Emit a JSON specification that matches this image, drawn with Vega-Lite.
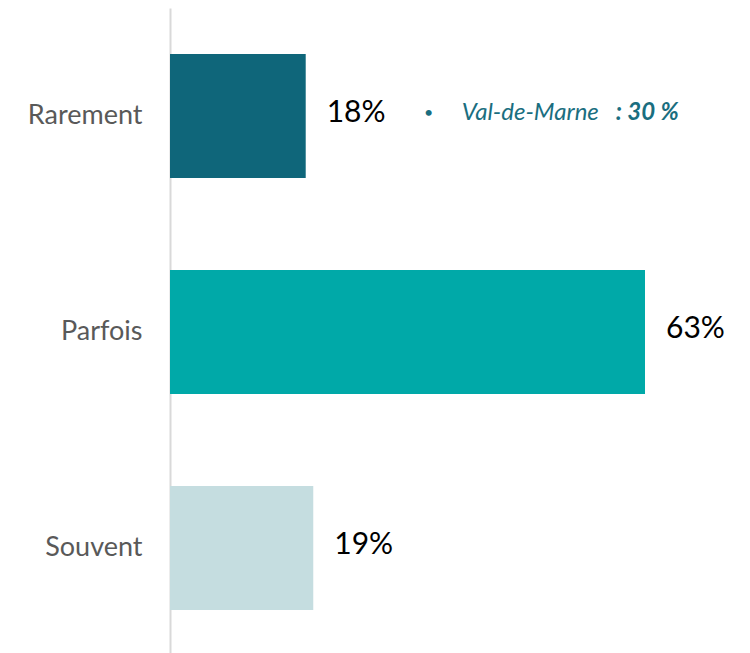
{
  "$schema": "https://vega.github.io/schema/vega-lite/v6.json",
  "width": 475,
  "height": 648,
  "autosize": {"type": "none"},
  "padding": {"left": 170, "top": 8, "right": 105, "bottom": 0},
  "background": "white",
  "config": {"view": {"stroke": null}, "font": "Lato"},
  "datasets": {
    "bars": [
      {"category": "Rarement", "value": 18, "label": "18%"},
      {"category": "Parfois", "value": 63, "label": "63%"},
      {"category": "Souvent", "value": 19, "label": "19%"}
    ],
    "note": [
      {"category": "Rarement", "value": 18, "bullet": "•", "region": "Val-de-Marne", "figure": ": 30 %"}
    ]
  },
  "layer": [
    {
      "data": {"name": "bars"},
      "mark": {"type": "bar"},
      "encoding": {
        "y": {
          "field": "category", "type": "nominal",
          "sort": ["Rarement", "Parfois", "Souvent"],
          "scale": {"paddingInner": 0.425, "paddingOuter": 0.2125},
          "axis": {
            "title": null, "ticks": false, "domainColor": "#d9d9d9", "domainWidth": 2,
            "labelFontSize": 27, "labelColor": "#595959", "labelPadding": 28, "labelFont": "Lato"
          }
        },
        "x": {"field": "value", "type": "quantitative", "scale": {"domain": [0, 63], "nice": false, "zero": true}, "axis": null},
        "color": {
          "field": "category", "type": "nominal",
          "scale": {"domain": ["Rarement", "Parfois", "Souvent"], "range": ["#0f667a", "#00a9a8", "#c5dde0"]},
          "legend": null
        }
      }
    },
    {
      "data": {"name": "bars"},
      "mark": {"type": "text", "align": "left", "dx": 21, "dy": -3, "fontSize": 30, "color": "#000000"},
      "encoding": {
        "y": {"field": "category", "type": "nominal", "sort": ["Rarement", "Parfois", "Souvent"]},
        "x": {"field": "value", "type": "quantitative"},
        "text": {"field": "label"}
      }
    },
    {
      "data": {"name": "note"},
      "mark": {"type": "text", "align": "center", "dx": 123, "dy": -3, "fontSize": 16, "color": "#1a6e80"},
      "encoding": {
        "y": {"field": "category", "type": "nominal", "sort": ["Rarement", "Parfois", "Souvent"]},
        "x": {"field": "value", "type": "quantitative"},
        "text": {"field": "bullet"}
      }
    },
    {
      "data": {"name": "note"},
      "mark": {"type": "text", "align": "left", "dx": 156, "dy": -3, "fontSize": 24, "fontStyle": "italic", "color": "#1a6e80"},
      "encoding": {
        "y": {"field": "category", "type": "nominal", "sort": ["Rarement", "Parfois", "Souvent"]},
        "x": {"field": "value", "type": "quantitative"},
        "text": {"field": "region"}
      }
    },
    {
      "data": {"name": "note"},
      "mark": {"type": "text", "align": "right", "dx": 373, "dy": -3, "fontSize": 24, "fontStyle": "italic", "fontWeight": "bold", "color": "#1a6e80"},
      "encoding": {
        "y": {"field": "category", "type": "nominal", "sort": ["Rarement", "Parfois", "Souvent"]},
        "x": {"field": "value", "type": "quantitative"},
        "text": {"field": "figure"}
      }
    }
  ]
}
